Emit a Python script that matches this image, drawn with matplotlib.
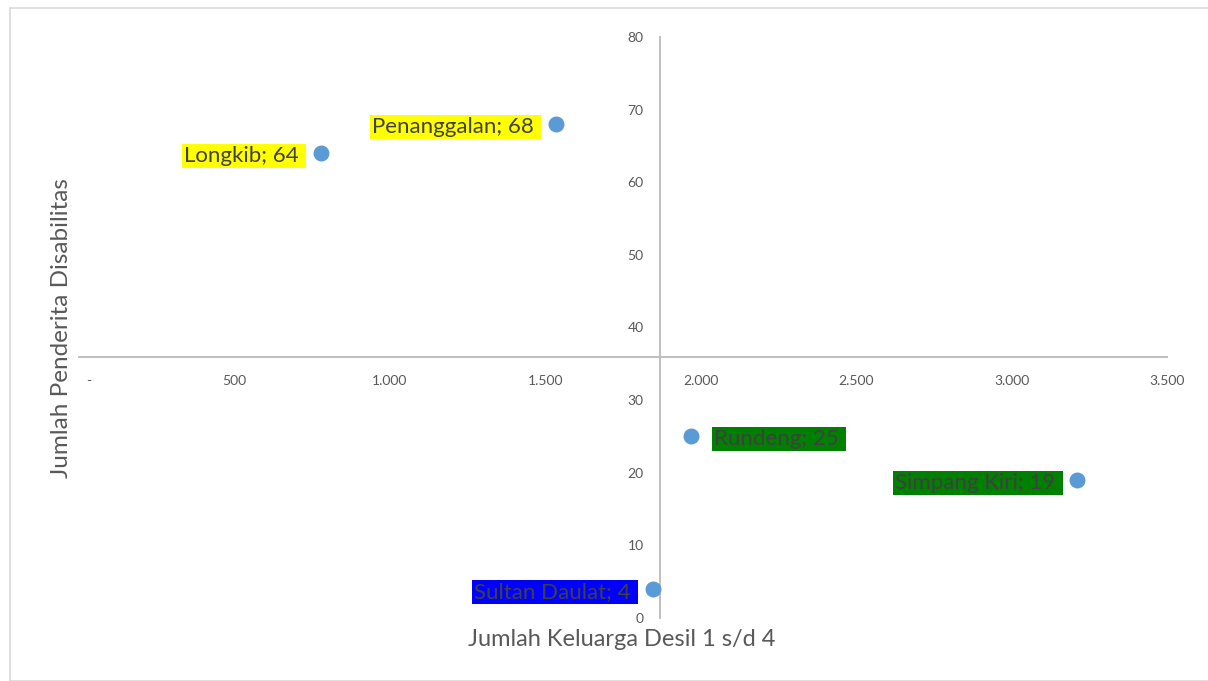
import matplotlib
matplotlib.use("Agg")
import matplotlib.pyplot as plt
from matplotlib.ticker import FuncFormatter
from matplotlib.patches import Rectangle

names = ["Penanggalan", "Longkib", "Rundeng", "Simpang Kiri", "Sultan Daulat"]
x_vals = [1535, 779, 1970, 3212, 1847]
y_vals = [68, 64, 25, 19, 4]
label_colors = ["#ffff00", "#ffff00", "#008000", "#008000", "#0000ff"]
label_side = ["left", "left", "right", "left", "left"]
x_cross = 1870
y_cross = 36

plt.rcParams['font.family'] = ['Lato', 'DejaVu Sans']

fig = plt.figure(figsize=(12.08, 6.81), dpi=100)
fig.patches.append(Rectangle((10/1208, 0), 1.0, 1 - 8/681, transform=fig.transFigure,
                             fill=False, edgecolor="#d9d9d9", linewidth=1.2))
ax = fig.add_axes([79/1208, 1 - 618/681, (1167-79)/1208, (618-37)/681])
ax.set_xlim(0, 3500)
ax.set_ylim(0, 80)

ax.scatter(x_vals, y_vals, s=110, color="#5b9bd5", zorder=3, clip_on=False)

for n, x, y, c, side in zip(names, x_vals, y_vals, label_colors, label_side):
    off = -12 if side == "left" else 16
    ha = "right" if side == "left" else "left"
    ax.annotate(f"{n}; {y} ", (x, y), xytext=(off, -2), textcoords="offset points",
                ha=ha, va="center", fontsize=16, color="#404040",
                bbox=dict(boxstyle="square,pad=0.08", facecolor=c, edgecolor="none"))

for s in ["top", "right"]:
    ax.spines[s].set_visible(False)
ax.spines["left"].set_position(("data", x_cross))
ax.spines["bottom"].set_position(("data", y_cross))
for s in ["left", "bottom"]:
    ax.spines[s].set_color("#bfbfbf")
    ax.spines[s].set_linewidth(1.4)

ax.set_xticks(range(0, 3501, 500))
ax.set_yticks(range(0, 81, 10))
ax.xaxis.set_major_formatter(FuncFormatter(lambda v, p: "" if v == 0 else f"{int(v):,}".replace(",", ".")))
ax.yaxis.set_major_formatter(FuncFormatter(lambda v, p: f"{int(v)}"))
ax.tick_params(axis="both", length=0, labelsize=10, labelcolor="#595959")
ax.tick_params(axis="x", pad=13)
ax.tick_params(axis="y", pad=12)
# zero label of x axis ("-"), shifted right as in the reference
ax.annotate("-", (0, y_cross), xytext=(7, -13), textcoords="offset points",
            ha="center", va="top", fontsize=10, color="#595959")

fig.text(622/1208, 1 - 640/681, "Jumlah Keluarga Desil 1 s/d 4", ha="center", va="center",
         fontsize=17, color="#595959")
fig.text(62/1208, 1 - 328/681, "Jumlah Penderita Disabilitas", ha="center", va="center",
         rotation=90, fontsize=17.5, color="#595959")

fig.savefig("out.png", dpi=100)
